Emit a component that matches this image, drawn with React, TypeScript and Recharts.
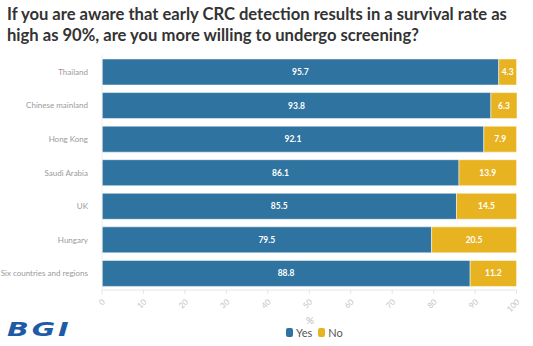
import React from 'react';
import { BarChart, Bar, XAxis, YAxis, LabelList } from 'recharts';

const regions = ['Thailand', 'Chinese mainland', 'Hong Kong', 'Saudi Arabia', 'UK', 'Hungary', 'Six countries and regions'];
const yesValues = [95.7, 93.8, 92.1, 86.1, 85.5, 79.5, 88.8];
const noValues = [4.3, 6.3, 7.9, 13.9, 14.5, 20.5, 11.2];
const xTicks = [0, 10, 20, 30, 40, 50, 60, 70, 80, 90, 100];

const BLUE = '#2f73a0';
const YELLOW = '#e8b321';

const data = regions.map((name, i) => ({ name, yes: yesValues[i], no: noValues[i] }));

const AngledTick = (props: any) => {
  const { x, y, payload } = props;
  return (
    <g transform={`translate(${x},${y + 3})`}>
      <text x={0} y={0} dy={5} textAnchor="end" fill="#c4c4c4" fontSize={8} transform="rotate(-45)">
        {payload.value}
      </text>
    </g>
  );
};

const RegionTick = (props: any) => {
  const { x, y, payload } = props;
  return (
    <text x={x - 6} y={y} dy={3} textAnchor="end" fill="#9a9a9a" fontSize={8}>
      {payload.value}
    </text>
  );
};

const App = () => {
  return (
    <div style={{ position: 'absolute', left: 0, top: 0, width: 533, height: 346, background: '#fff', fontFamily: 'Lato, "Open Sans", sans-serif' }}>
      <div style={{ position: 'absolute', left: 7, top: 4, fontSize: 16.6, fontWeight: 700, color: '#333', lineHeight: '21px', whiteSpace: 'nowrap', fontFamily: 'Lato, sans-serif' }}>
        If you are aware that early CRC detection results in a survival rate as
        <br />
        high as 90%, are you more willing to undergo screening?
      </div>
      <div style={{ position: 'absolute', left: 0, top: 0 }}>
        <BarChart
          width={533}
          height={346}
          data={data}
          layout="vertical"
          margin={{ top: 55, right: 16, bottom: 26, left: 0 }}
          barCategoryGap={4}
        >
          <XAxis
            type="number"
            domain={[0, 100]}
            ticks={xTicks}
            tick={<AngledTick />}
            tickLine={{ stroke: '#e6e6e6' }}
            axisLine={{ stroke: '#e6e6e6' }}
            tickSize={4}
            height={30}
            interval={0}
          />
          <YAxis
            type="category"
            dataKey="name"
            width={102}
            tick={<RegionTick />}
            tickLine={false}
            axisLine={{ stroke: '#eee' }}
          />
          <Bar dataKey="yes" stackId="a" fill={BLUE} stroke="#fff" strokeWidth={0.5} isAnimationActive={false}>
            <LabelList dataKey="yes" position="center" fill="#fff" fontSize={8.5} fontWeight={700} />
          </Bar>
          <Bar dataKey="no" stackId="a" fill={YELLOW} stroke="#fff" strokeWidth={0.5} isAnimationActive={false}>
            <LabelList dataKey="no" position="center" fill="#fff" fontSize={8.5} fontWeight={700} />
          </Bar>
        </BarChart>
      </div>
      <div style={{ position: 'absolute', left: 306, top: 314, fontSize: 10, color: '#bbb' }}>%</div>
      <div style={{ position: 'absolute', left: 286, top: 326, display: 'flex', alignItems: 'center', fontSize: 11, color: '#555' }}>
        <span style={{ display: 'inline-block', width: 7, height: 9, background: BLUE, borderRadius: 2, marginRight: 3 }} />
        <span style={{ marginRight: 6 }}>Yes</span>
        <span style={{ display: 'inline-block', width: 7, height: 9, background: YELLOW, borderRadius: 2, marginRight: 3 }} />
        <span>No</span>
      </div>
      <div style={{ position: 'absolute', left: 7, top: 318, fontSize: 19, fontWeight: 900, fontStyle: 'italic', color: '#1f5aa6', fontFamily: '"DejaVu Sans", sans-serif', letterSpacing: 2, transform: 'scaleX(1.5)', transformOrigin: 'left' }}>
        BGI
      </div>
    </div>
  );
};

export default App;
